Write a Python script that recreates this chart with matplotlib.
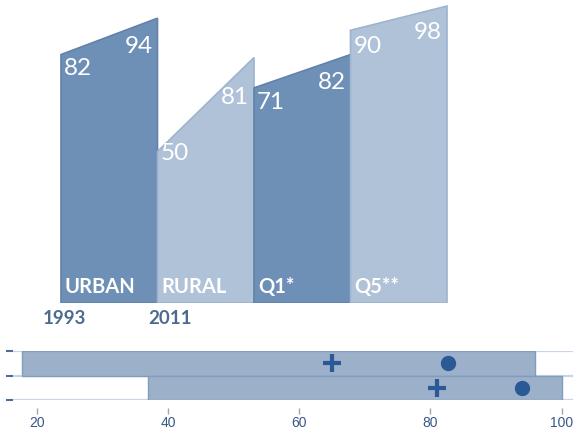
import matplotlib
matplotlib.use('Agg')
import matplotlib.pyplot as plt
from matplotlib.patches import Polygon

# top panel data: 1993 -> 2011
groups = ['URBAN', 'RURAL', 'Q1*', 'Q5**']
v1993 = [82, 50, 71, 90]
v2011 = [94, 81, 82, 98]
years = ['1993', '2011']
fills = ['#6e8fb6', '#afc2d8', '#6e8fb6', '#afc2d8']
edges = ['#6282ab', '#9db3cf', '#6282ab', '#9db3cf']

# bottom panel data: two rows (top row first)
bar_lo = [17.7, 37]
bar_hi = [96, 100]
plus_vals = [65, 81]
dot_vals = [82.7, 94]
xticks = [20, 40, 60, 80, 100]

W, H = 573, 432
fig = plt.figure(figsize=(W / 100, H / 100), dpi=100)

# ---- top: sloped blocks ----
x0px, unit = 61, 96.5
base = 303
ax = fig.add_axes([0, 1 - base / H, 1, base / H])
ax.set_xlim(-x0px / unit, (W - x0px) / unit)
ax.set_ylim(0, base / 3.03)
ax.axis('off')

for i, g in enumerate(groups):
    a, b = v1993[i], v2011[i]
    poly = Polygon([(i, 0), (i, a), (i + 1, b), (i + 1, 0)], closed=True,
                   facecolor=fills[i], edgecolor=edges[i], lw=1.2)
    ax.add_patch(poly)
    yl = a + (b - a) * 0.2 - 7
    yr = a + (b - a) * 0.8 - 7
    ax.text(i + 0.03, yl, str(a), color='white', ha='left', va='center',
            fontsize=17.5, family='Lato')
    ax.text(i + 0.95, yr, str(b), color='white', ha='right', va='center',
            fontsize=17.5, family='Lato')
    ax.text(i + 0.04, 3.3, g, color='white', ha='left', va='baseline',
            fontsize=14.5, family='Lato', fontweight='bold')

ax.text(-0.19, -7, years[0], color='#4d6b8f', ha='left', va='baseline',
        fontsize=13.5, family='Lato', fontweight='bold')
ax.text(0.90, -7, years[1], color='#4d6b8f', ha='left', va='baseline',
        fontsize=13.5, family='Lato', fontweight='bold')

# ---- bottom: range bars ----
left_px, top_px, bot_px = 13, 351, 400
bx = fig.add_axes([left_px / W, 1 - bot_px / H, (W - left_px) / W,
                   (bot_px - top_px) / H])
ppu = 6.56
bx.set_xlim(20 - (36.7 - left_px) / ppu, 20 + (W - 36.7) / ppu)
bx.set_ylim(0, 2)
for s in bx.spines.values():
    s.set_visible(False)
for yv in [0, 1, 2]:
    bx.axhline(yv, color='#c9d5e6', lw=1.6, zorder=0)

rows = [1, 0]
for r, lo, hi, p, d in zip(rows, bar_lo, bar_hi, plus_vals, dot_vals):
    bx.barh(r, hi - lo, left=lo, height=1, align='edge',
            color='#9cb0ca', edgecolor='#829cbe', lw=1, zorder=2)
    bx.plot(p, r + 0.5, marker='+', ms=13, mew=3, color='#2b5996', zorder=3)
    bx.plot(d, r + 0.5, marker='o', ms=10, color='#2b5996', zorder=3)

bx.set_yticks([0, 1, 2])
bx.set_yticklabels([])
bx.tick_params(axis='y', length=5, width=1.5, color='#4f6c96', pad=0)
bx.spines['bottom'].set_position(('outward', 6))
bx.set_xticks(xticks)
bx.set_xticklabels([str(t) for t in xticks])
bx.tick_params(axis='x', length=4, width=1, color='#9aa6b6', pad=1.5,
               labelsize=10, labelcolor='#36598a')
for lab in bx.get_xticklabels():
    lab.set_family('Liberation Sans')

fig.savefig('out.png', dpi=100)
plt.close(fig)
